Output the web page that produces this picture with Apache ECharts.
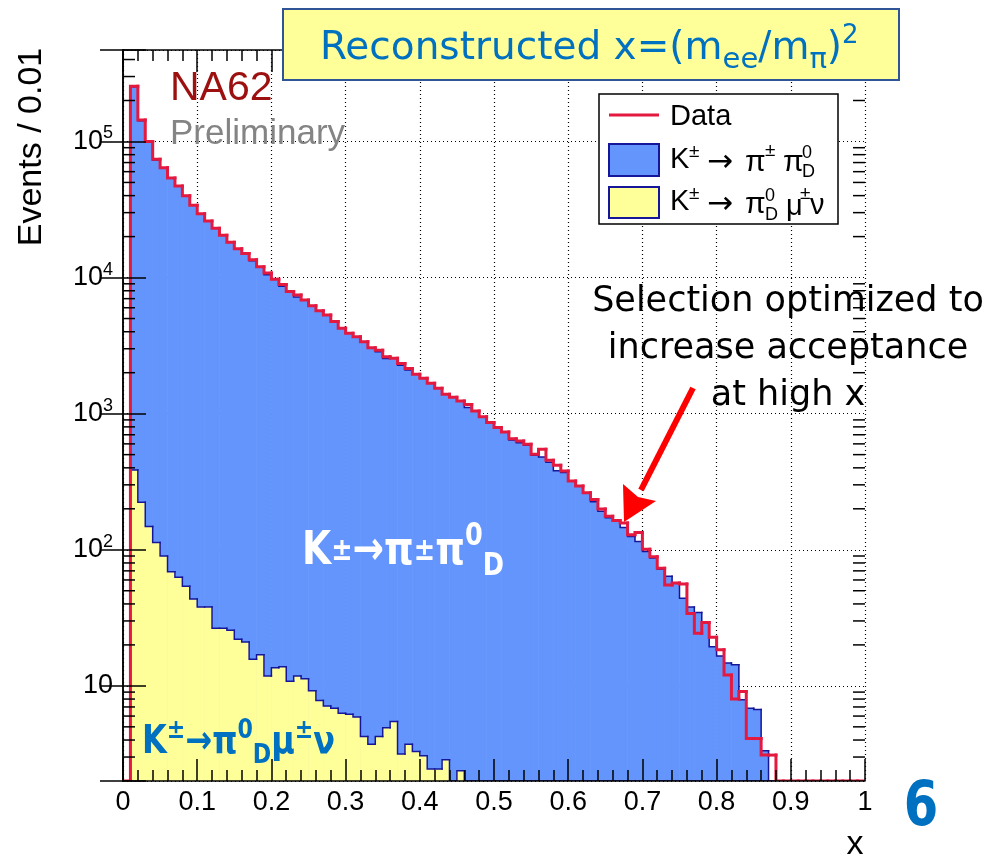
<!DOCTYPE html>
<html>
<head>
<meta charset="utf-8">
<script src="https://cdn.jsdelivr.net/npm/echarts@6.0.0/dist/echarts.min.js"></script>
<style>
  html, body { margin: 0; padding: 0; background: #fff; }
  #chart { width: 991px; height: 867px; }
</style>
</head>
<body>
<div id="chart"></div>
<script>
// histogram: 100 bins of 0.01 on x = (m_ee/m_pi)^2
const binWidth = 0.01;
const xTickLabels = ['0', '0.1', '0.2', '0.3', '0.4', '0.5', '0.6', '0.7', '0.8', '0.9', '1'];
const yMin = 2, yMax = 4.7e5;
const yMinorTicks = [3, 4, 5, 6, 7, 8, 9, 20, 30, 40, 50, 60, 70, 80, 90,
  200, 300, 400, 500, 600, 700, 800, 900, 2000, 3000, 4000, 5000, 6000, 7000, 8000, 9000,
  20000, 30000, 40000, 50000, 60000, 70000, 80000, 90000, 200000, 300000, 400000];

// data (red)
const dataCounts = [
  0, 255000, 144000, 100000, 74000, 64000, 54000, 47000, 40000, 34000,
  29500, 26000, 23000, 20500, 18200, 16300, 15000, 13500, 12000, 10800,
  9700, 8900, 7900, 7450, 6850, 6200, 5700, 5300, 4750, 4250,
  3900, 3680, 3380, 3050, 2930, 2620, 2550, 2340, 2150, 1950,
  1820, 1670, 1540, 1390, 1320, 1240, 1170, 1045, 950, 860,
  790, 733, 655, 629, 595, 503, 547, 454, 417, 379,
  320, 294, 262, 234, 199, 176, 164, 157, 129, 134,
  101, 89, 73, 55, 57, 56, 34, 24.4, 29.2, 22.8,
  18.4, 12, 8, 9.1, 4.1, 4.1, 3.1, 3.1, 0, 0,
  0, 0, 0, 0, 0, 0, 0, 0, 0, 0
];
// MC sum (blue): K -> pi pi0_D + K -> pi0_D mu nu
const mcTotal = [
  0, 252000, 142000, 100000, 73000, 64000, 54000, 47000, 40000, 34000,
  29500, 26000, 23000, 20500, 18200, 16300, 15000, 13300, 12000, 10500,
  9700, 8650, 7900, 7200, 6850, 6200, 5700, 5300, 4750, 4250,
  3900, 3680, 3380, 3050, 2850, 2540, 2550, 2270, 2090, 1950,
  1820, 1670, 1540, 1390, 1320, 1240, 1110, 1045, 950, 850,
  790, 733, 640, 612, 585, 495, 480, 440, 380, 370,
  320, 294, 262, 225, 192, 172, 164, 146, 125, 115,
  97, 87, 72, 64, 57, 44, 38, 34.6, 29, 19.4,
  16.6, 14.7, 14.3, 7.9, 6.85, 6.7, 3.34, 0, 0, 0,
  0, 0, 0, 0, 0, 0, 0, 0, 0, 0
];
// MC K -> pi0_D mu nu (yellow)
const kmu3 = [
  0, 385, 223, 148, 113, 90, 69, 62.7, 54, 43.4,
  38, 38, 26.5, 26.5, 25.6, 22, 21, 15.7, 16.9, 11.8,
  13.6, 13.8, 10.8, 11.8, 11.3, 9.2, 7.8, 7.1, 6.85, 6.3,
  6.2, 5.9, 4.24, 3.72, 4.24, 4.93, 5.47, 3.16, 3.72, 3.29,
  3.06, 2.45, 2.45, 2.86, 0, 2.38, 0, 0, 0, 0,
  0, 0, 0, 0, 0, 0, 0, 0, 0, 0,
  0, 0, 0, 0, 0, 0, 0, 0, 0, 0,
  0, 0, 0, 0, 0, 0, 0, 0, 0, 0,
  0, 0, 0, 0, 0, 0, 0, 0, 0, 0,
  0, 0, 0, 0, 0, 0, 0, 0, 0, 0
];

const blueFill = '#6495fd', navy = '#16169a', yellowFill = '#ffff99', red = '#e3193f';
const slideBlue = '#0070c0';
const rootFont = '"Liberation Sans", Arial, sans-serif';
const slideFont = '"DejaVu Sans", Verdana, sans-serif';

function histData(counts) {
  return counts.map((v, i) => [i * binWidth, v, i > 0 ? counts[i - 1] : 0]);
}

function fillItem(color) {
  return function (params, api) {
    const v = api.value(1);
    if (!(v > yMin)) return { type: 'group', children: [] };
    const x0 = api.value(0);
    const tl = api.coord([x0, v]);
    const br = api.coord([x0 + binWidth, yMin]);
    return {
      type: 'rect',
      shape: { x: tl[0] - 0.3, y: tl[1], width: br[0] - tl[0] + 0.6, height: br[1] - tl[1] },
      style: { fill: color }
    };
  };
}

function lineItem(color, width) {
  return function (params, api) {
    const x0 = api.value(0);
    const v = Math.max(api.value(1), yMin);
    const p = Math.max(api.value(2), yMin);
    return {
      type: 'polyline',
      shape: { points: [api.coord([x0, p]), api.coord([x0, v]), api.coord([x0 + binWidth, v])] },
      style: { stroke: color, lineWidth: width, fill: null, lineCap: 'square' }
    };
  };
}

function histSeries(counts, render, z) {
  return {
    type: 'custom', coordinateSystem: 'cartesian2d', clip: true, silent: true,
    encode: { x: 0, y: 1 }, data: histData(counts), renderItem: render, z: z
  };
}

function yLabel(v) {
  const e = Math.round(Math.log10(v));
  if (Math.abs(v - Math.pow(10, e)) > 1e-6 * v) return '';
  if (e === 1) return '{b|10}';
  return '{b|10}{sup|' + e + '}';
}

// one piece of legend text
function lt(x, y, text, size, font) {
  return { type: 'text', z: 101, x: x, y: y,
    style: { text: text, fontSize: size, fontFamily: font || rootFont, fill: '#000', verticalAlign: 'middle' } };
}

const dotted = { show: true, lineStyle: { color: '#000', width: 1.2, type: [1, 3] } };
const frameLine = { show: true, lineStyle: { color: '#000', width: 1.5 } };

const myChart = echarts.init(document.getElementById('chart'));
const option = {
  animation: false,
  backgroundColor: '#fff',
  grid: { left: 123, top: 50, width: 742, height: 731, outerBoundsMode: 'none', containLabel: false },
  xAxis: [
    {
      type: 'value', min: 0, max: 1, interval: 0.1, position: 'bottom', z: 10,
      axisLine: frameLine,
      axisTick: { inside: true, length: 22, lineStyle: { color: '#000', width: 1.5 } },
      minorTick: { show: true, splitNumber: 5, length: 11, lineStyle: { color: '#000', width: 1.5 } },
      axisLabel: {
        margin: 8, fontSize: 27, fontFamily: rootFont, color: '#000',
        formatter: v => xTickLabels[Math.round(v * 10)]
      },
      splitLine: { show: false }
    },
    {
      type: 'value', min: 0, max: 1, interval: 0.1, position: 'top', z: 10,
      axisLine: frameLine,
      axisTick: { inside: true, length: 22, lineStyle: { color: '#000', width: 1.5 } },
      minorTick: { show: true, splitNumber: 5, length: 11, lineStyle: { color: '#000', width: 1.5 } },
      axisLabel: { show: false },
      splitLine: { show: false }
    },
    {
      type: 'value', min: 0, max: 1, interval: 0.1, position: 'bottom', z: 0,
      axisLine: { show: false }, axisTick: { show: false }, axisLabel: { show: false },
      splitLine: dotted
    }
  ],
  yAxis: [
    {
      type: 'log', logBase: 10, min: yMin, max: yMax, position: 'left', z: 10,
      axisLine: frameLine,
      axisTick: { inside: true, length: 23, lineStyle: { color: '#000', width: 1.5 } },
      axisLabel: {
        margin: 10, formatter: yLabel,
        rich: {
          b: { fontSize: 27, fontFamily: rootFont, color: '#000', lineHeight: 34 },
          sup: { fontSize: 18, fontFamily: rootFont, color: '#000', lineHeight: 14, verticalAlign: 'top' }
        }
      },
      splitLine: { show: false }
    },
    {
      type: 'log', logBase: 10, min: yMin, max: yMax, position: 'right', z: 10,
      axisLine: frameLine,
      axisTick: { inside: true, length: 23, lineStyle: { color: '#000', width: 1.5 } },
      axisLabel: { show: false },
      splitLine: { show: false }
    },
    {
      type: 'log', logBase: 10, min: yMin, max: yMax, position: 'left', z: 0,
      axisLine: { show: false }, axisTick: { show: false }, axisLabel: { show: false },
      splitLine: dotted
    }
  ],
  series: [
    histSeries(mcTotal, fillItem(blueFill), 2),
    histSeries(mcTotal, lineItem(navy, 1.5), 3),
    histSeries(kmu3, fillItem(yellowFill), 4),
    histSeries(kmu3, lineItem(navy, 1.5), 5),
    histSeries(dataCounts, lineItem(red, 3), 6),
    {
      // minor ticks of the log axis, left and right frame
      type: 'custom', coordinateSystem: 'cartesian2d', silent: true, z: 20,
      encode: { x: 0, y: 1 },
      data: yMinorTicks.map(v => [0, v]),
      renderItem: function (params, api) {
        const v = api.value(1);
        const a = api.coord([0, v]), b = api.coord([1, v]);
        return {
          type: 'group', children: [
            { type: 'line', shape: { x1: a[0], y1: a[1], x2: a[0] + 12, y2: a[1] }, style: { stroke: '#000', lineWidth: 1.5 } },
            { type: 'line', shape: { x1: b[0] - 12, y1: b[1], x2: b[0], y2: b[1] }, style: { stroke: '#000', lineWidth: 1.5 } }
          ]
        };
      }
    }
  ],
  graphic: [
    // title box
    { type: 'rect', z: 100, shape: { x: 283, y: 9, width: 616, height: 71 },
      style: { fill: '#ffff99', stroke: '#2f5597', lineWidth: 2 } },
    { type: 'text', z: 101, x: 320, y: 23, style: {
      text: '{m|Reconstructed x=(m}{sub|ee}{m|/m}{sub|π}{m|)}{sup|2}',
      align: 'left', verticalAlign: 'top',
      rich: {
        m: { fontSize: 39, fontFamily: slideFont, fill: slideBlue, lineHeight: 52 },
        sub: { fontSize: 29, fontFamily: slideFont, fill: slideBlue, lineHeight: 29, verticalAlign: 'bottom' },
        sup: { fontSize: 26, fontFamily: slideFont, fill: slideBlue, lineHeight: 30, verticalAlign: 'top' }
      } } },
    // NA62 preliminary
    { type: 'text', z: 100, x: 170, y: 89, style: { text: 'NA62', fontSize: 41, fontFamily: rootFont, fill: '#9c1010', verticalAlign: 'middle' } },
    { type: 'text', z: 100, x: 170, y: 134, style: { text: 'Preliminary', fontSize: 35, fontFamily: rootFont, fill: '#848484', verticalAlign: 'middle' } },
    // axis titles
    { type: 'text', z: 100, x: 32, y: 147, rotation: Math.PI / 2, style: { text: 'Events / 0.01', fontSize: 34, fontFamily: rootFont, fill: '#000', align: 'center', verticalAlign: 'middle' } },
    { type: 'text', z: 100, x: 855, y: 845, style: { text: 'x', fontSize: 34, fontFamily: rootFont, fill: '#000', align: 'center', verticalAlign: 'middle' } },
    // legend
    { type: 'rect', z: 100, shape: { x: 599, y: 94, width: 239, height: 130 }, style: { fill: '#fff', stroke: '#000', lineWidth: 1.5 } },
    { type: 'line', z: 101, shape: { x1: 609, y1: 115, x2: 659, y2: 115 }, style: { stroke: red, lineWidth: 3 } },
    { type: 'rect', z: 101, shape: { x: 609, y: 144, width: 50, height: 32 }, style: { fill: blueFill, stroke: navy, lineWidth: 2 } },
    { type: 'rect', z: 101, shape: { x: 609, y: 187, width: 50, height: 31 }, style: { fill: yellowFill, stroke: navy, lineWidth: 2 } },
    lt(670, 117, 'Data', 29),
    lt(670, 160, 'K', 29), lt(689, 152, '±', 19), lt(707, 163, '→', 31, slideFont),
    lt(745, 163, 'π', 30), lt(765, 151, '±', 19), lt(783, 163, 'π', 30),
    lt(802, 153, '0', 18), lt(802, 172, 'D', 18),
    lt(670, 202, 'K', 29), lt(689, 194, '±', 19), lt(707, 205, '→', 31, slideFont),
    lt(745, 205, 'π', 30), lt(765, 196, '0', 18), lt(765, 215, 'D', 18),
    lt(786, 207, 'μ', 29), lt(800, 194, '±', 19), lt(810, 206, 'ν', 29),
    // annotation and arrow
    { type: 'text', z: 100, x: 788, y: 349, style: {
      text: 'Selection optimized to\nincrease acceptance\nat high x',
      fontSize: 35, fontFamily: slideFont, fill: '#000', align: 'center', verticalAlign: 'middle', lineHeight: 47 } },
    { type: 'line', z: 100, shape: { x1: 693, y1: 388, x2: 641, y2: 490 }, style: { stroke: '#ff0000', lineWidth: 6 } },
    { type: 'polygon', z: 100, shape: { points: [[624, 522], [623, 484], [638, 497], [656, 501]] }, style: { fill: '#ff0000' } },
    // channel labels (horizontally condensed like the slide font)
    { type: 'text', z: 100, x: 302, y: 552, scaleX: 0.8, style: {
      text: '{k|K}{pm|±}{k|→π}{pm|±}{k|π}{u|0}{d|D}',
      align: 'left', verticalAlign: 'middle',
      rich: {
        k: { fontSize: 47, fontWeight: 'bold', fontFamily: slideFont, fill: '#fff', lineHeight: 62 },
        pm: { fontSize: 32, fontWeight: 'bold', fontFamily: slideFont, fill: '#fff', lineHeight: 62 },
        u: { fontSize: 32, fontWeight: 'bold', fontFamily: slideFont, fill: '#fff', lineHeight: 44, verticalAlign: 'top' },
        d: { fontSize: 32, fontWeight: 'bold', fontFamily: slideFont, fill: '#fff', lineHeight: 34, verticalAlign: 'bottom' }
      } } },
    { type: 'text', z: 100, x: 142, y: 743, scaleX: 0.82, style: {
      text: '{k|K}{u|±}{k|→π}{u|0}{d|D}{k|μ}{u|±}{k|ν}',
      align: 'left', verticalAlign: 'middle',
      rich: {
        k: { fontSize: 39, fontWeight: 'bold', fontFamily: slideFont, fill: slideBlue, lineHeight: 52 },
        u: { fontSize: 27, fontWeight: 'bold', fontFamily: slideFont, fill: slideBlue, lineHeight: 36, verticalAlign: 'top' },
        d: { fontSize: 27, fontWeight: 'bold', fontFamily: slideFont, fill: slideBlue, lineHeight: 28, verticalAlign: 'bottom' }
      } } },
    // slide number
    { type: 'text', z: 100, x: 921, y: 809, scaleX: 0.8, style: { text: '6', fontSize: 62, fontWeight: 'bold', fontFamily: slideFont, fill: slideBlue, align: 'center', verticalAlign: 'middle' } }
  ]
};
myChart.setOption(option);
</script>
</body>
</html>
